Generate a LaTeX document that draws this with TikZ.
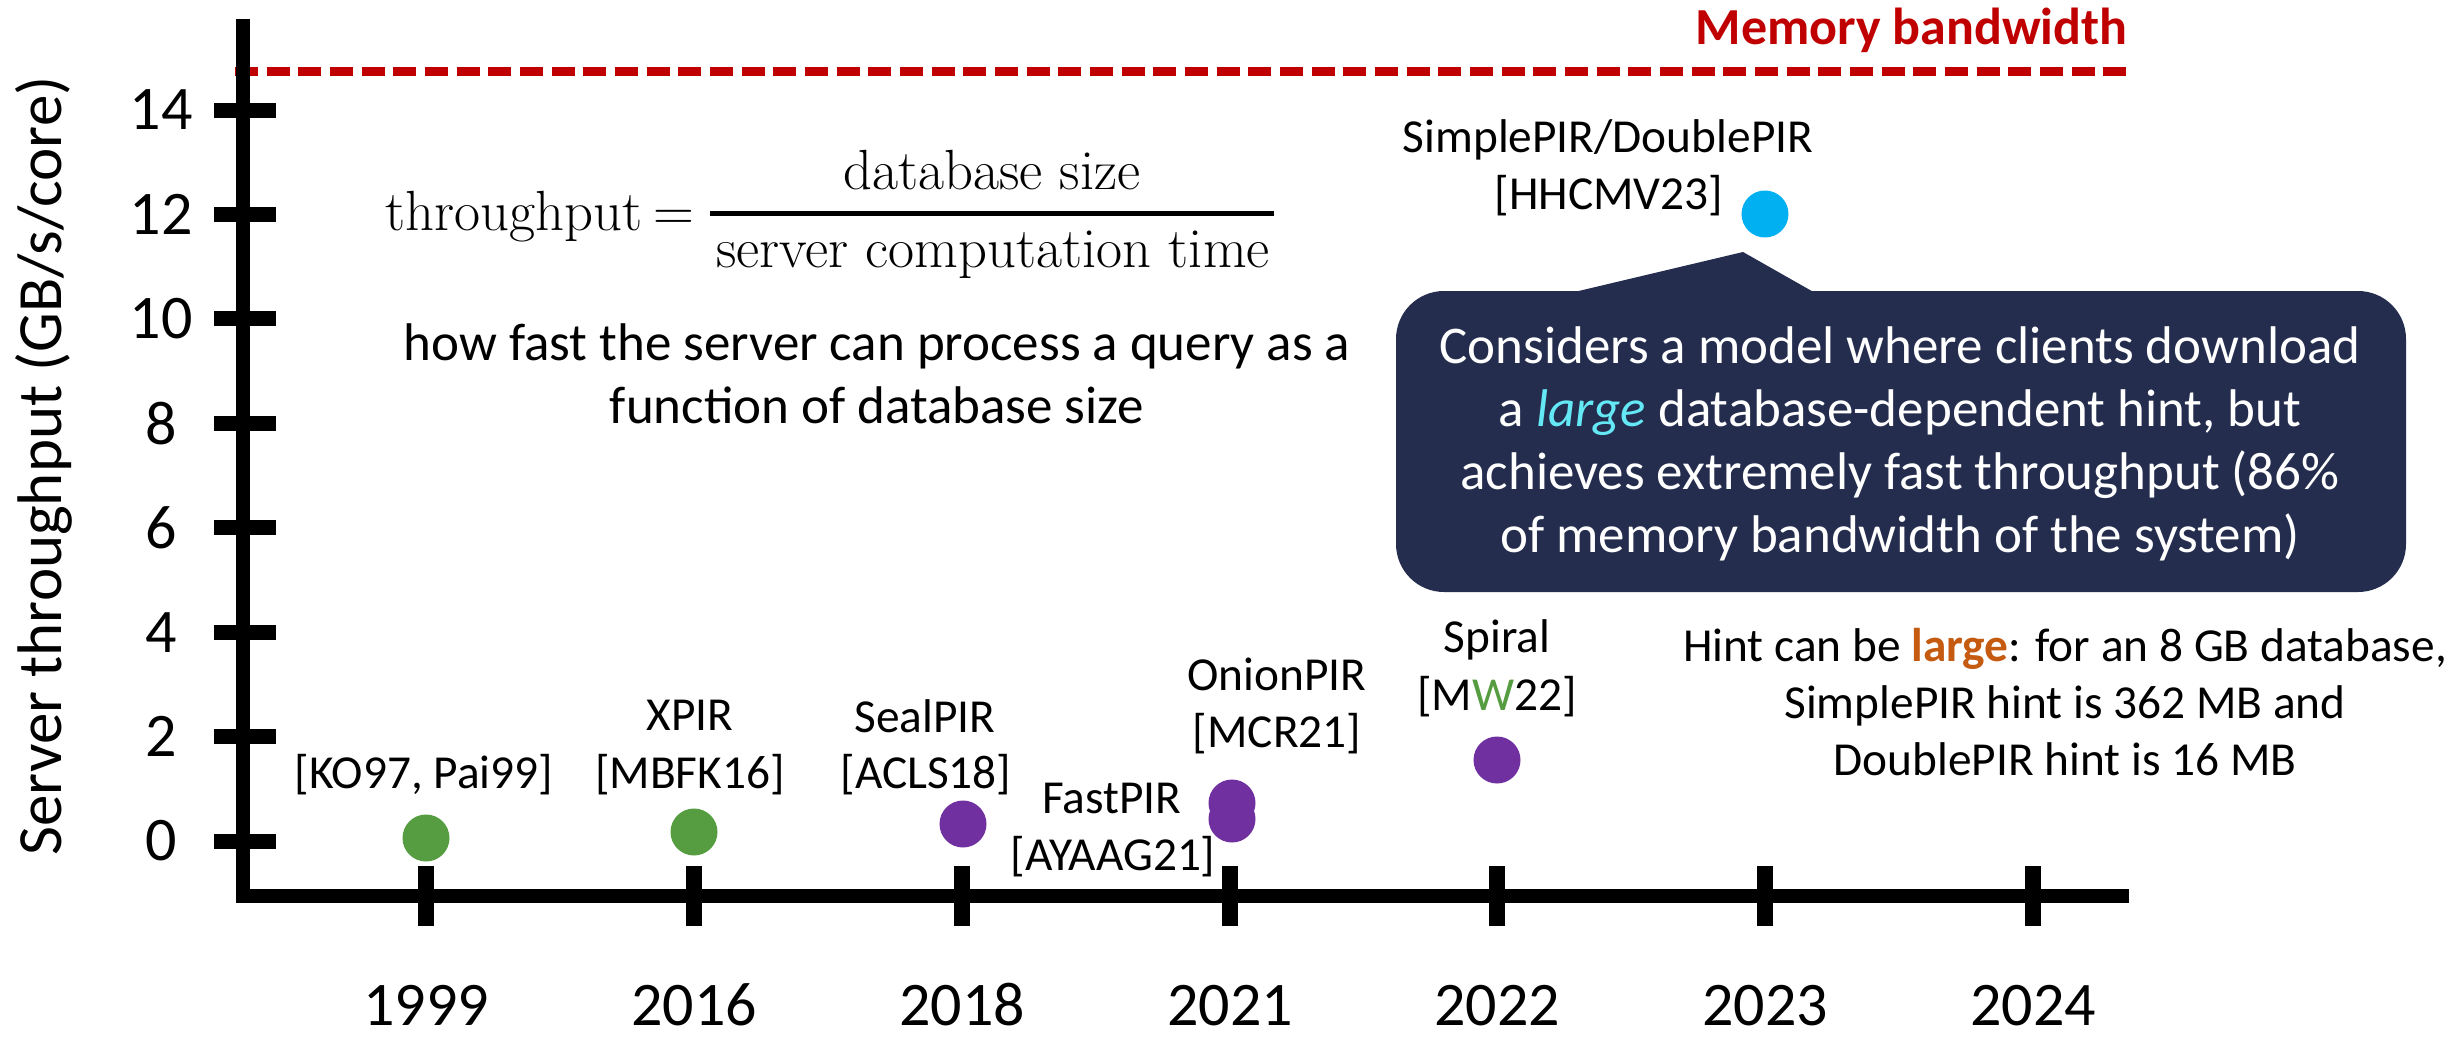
\documentclass[tikz,border=0pt]{standalone}
\usepackage{fontspec}
\setsansfont{Carlito}
\renewcommand{\familydefault}{\sfdefault}
\usetikzlibrary{calc}
\definecolor{memred}{RGB}{192,0,0}
\definecolor{dotgreen}{RGB}{86,156,64}
\definecolor{dotpurple}{RGB}{112,48,160}
\definecolor{dotblue}{RGB}{0,176,240}
\definecolor{navy}{RGB}{36,45,77}
\definecolor{hintorange}{RGB}{197,90,17}
\definecolor{lightcyan}{RGB}{100,232,245}
\tikzset{
  bodytext/.style={font=\sffamily\fontsize{15.9}{19}\selectfont, inner sep=0pt, anchor=base},
  lbl/.style={font=\sffamily\fontsize{14.2}{17}\selectfont, inner sep=0pt, anchor=base},
  ticklbl/.style={font=\sffamily\fontsize{18.6}{22}\selectfont, inner sep=0pt},
  formtext/.style={font=\rmfamily\fontsize{17}{20}\selectfont, inner sep=0pt, anchor=base},
  dot/.style={circle, inner sep=0pt, minimum size=14.1pt},
  axisline/.style={line width=4.4pt, line join=miter},
  ytickbar/.style={line width=4.5pt},
  xtickbar/.style={line width=5pt},
  callouttext/.style={bodytext, text=white},
}
\begin{document}
\begin{tikzpicture}[x=0.3pt,y=-0.3pt]
\useasboundingbox (0,0) rectangle (2461,1037);
\fill[white] (0,0) rectangle (2461,1037);

% memory bandwidth line
\coordinate (memL) at (235,72);
\coordinate (memR) at (2128,72);
\draw[memred, line width=2.7pt, dash pattern=on 6.9pt off 2.6pt] (memL) -- (memR);
\node[font=\sffamily\bfseries\fontsize{15.6}{19}\selectfont, text=memred, anchor=base east, inner sep=0pt] (mem) at (2128,45) {Memory bandwidth};

% axes
\coordinate (ytop) at (243,19);
\coordinate (origin) at (243,896);
\coordinate (xend) at (2129,896);
\draw[axisline] (ytop) -- (origin) -- (xend);

% y ticks and labels
\foreach \v [evaluate=\v as \yy using 841-52.214*\v] in {0,2,...,14} {
  \draw[ytickbar] (214,\yy) -- (276,\yy);
  \node[ticklbl] (yl\v) at (161,\yy) {\v};
}
\node[font=\sffamily\fontsize{18.9}{22}\selectfont, rotate=90, anchor=base, inner sep=0pt] (ylabel) at (61,466) {Server throughput (GB/s/core)};

% x ticks and years
\foreach \yr/\xx in {1999/426, 2016/694, 2018/962, 2021/1230, 2022/1497, 2023/1765, 2024/2033} {
  \draw[xtickbar] (\xx,866) -- (\xx,926);
  \node[ticklbl, anchor=base] (yr\yr) at (\xx,1025) {\yr};
}

% formula
\node[formtext, anchor=base west] (thr) at (385,230) {throughput};
\node[formtext] (eq) at (674,230) {=};
\node[formtext] (num) at (992,190) {database size};
\node[formtext] (den) at (993,267) {server computation time};
\coordinate (barL) at (710,214);
\coordinate (barR) at (1274,214);
\draw[line width=1.5pt] (barL) -- (barR);

\node[bodytext] (how1) at (877,360) {how fast the server can process a query as a};
\node[bodytext] (how2) at (877,423) {function of database size};

% data points
\node[dot, fill=dotgreen] (p1999) at (426,838) {};
\node[dot, fill=dotgreen] (p2016) at (694,832) {};
\node[dot, fill=dotpurple] (p2018) at (963,824) {};
\node[dot, fill=dotpurple] (pfast) at (1232,819) {};
\node[dot, fill=dotpurple] (ponion) at (1232,803) {};
\node[dot, fill=dotpurple] (pspiral) at (1497,760) {};
\node[dot, fill=dotblue] (psimple) at (1765,214) {};

% labels
\node[lbl] (lko) at (424,788) {[KO97, Pai99]};
\node[lbl] (lxpir) at (690,730) {XPIR};
\node[lbl] (lmbfk) at (690,788) {[MBFK16]};
\node[lbl] (lseal) at (925,732) {SealPIR};
\node[lbl] (lacls) at (926,788) {[ACLS18]};
\node[lbl] (lfast) at (1112,813) {FastPIR};
\node[lbl] (layaag) at (1113,870) {[AYAAG21]};
\node[lbl] (lonion) at (1277,690) {OnionPIR};
\node[lbl] (lmcr) at (1277,747) {[MCR21]};
\node[lbl] (lspiral) at (1497,652) {Spiral};
\node[lbl] (lmw) at (1497,710) {[M\textcolor{dotgreen}{W}22]};
\node[lbl] (lsimple) at (1608,153) {SimplePIR/DoublePIR};
\node[lbl] (lhhcmv) at (1609,210) {[HHCMV23]};

% callout
\fill[navy, rounded corners=14.4pt] (1396,291) rectangle (2406,592);
\fill[navy] (1566,294) -- (1743,252) -- (1817,294) -- cycle;
\node[callouttext] (c1) at (1900,363) {Considers a model where clients download};
\node[callouttext] (c2) at (1900,426) {a \textcolor{lightcyan}{\itshape large} database-dependent hint, but};
\node[callouttext] (c3) at (1900,489) {achieves extremely fast throughput (86\%};
\node[callouttext] (c4) at (1900,552) {of memory bandwidth of the system)};

% hint note
\node[lbl] (h1) at (2065,661) {Hint can be \textcolor{hintorange}{\bfseries large}: for an 8 GB database,};
\node[lbl] (h2) at (2065,718) {SimplePIR hint is 362 MB and};
\node[lbl] (h3) at (2065,775) {DoublePIR hint is 16 MB};
\end{tikzpicture}
\end{document}
